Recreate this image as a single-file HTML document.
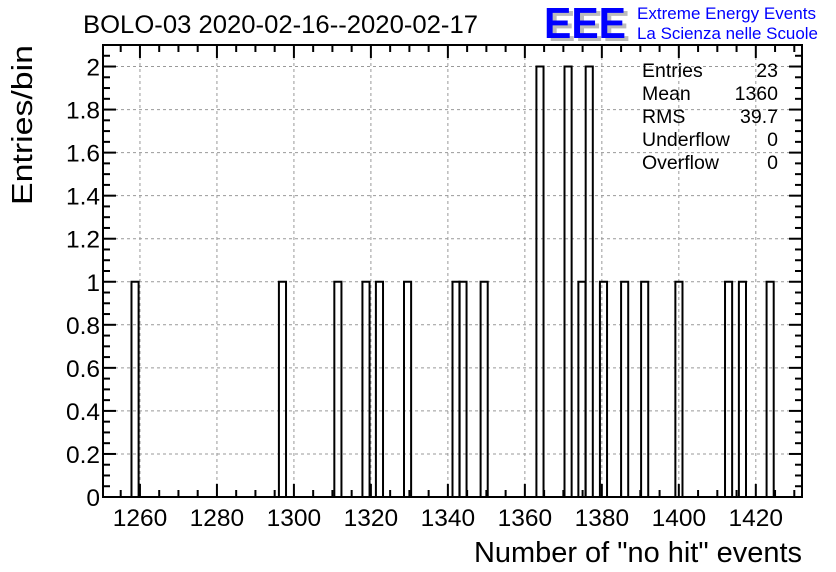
<!DOCTYPE html>
<html><head><meta charset="utf-8"><style>
body{margin:0;background:#fff;}
svg{display:block;font-family:"Liberation Sans",Arial,sans-serif;}
</style></head><body>
<svg id="chart" width="836" height="572" viewBox="0 0 836 572">
<rect width="836" height="572" fill="#fff"/>
<text x="83" y="33" font-size="25" fill="#000" textLength="395" lengthAdjust="spacingAndGlyphs">BOLO-03 2020-02-16--2020-02-17</text>
<g>
<text x="548" y="41" font-size="44" font-weight="bold" fill="#bbb" textLength="82" lengthAdjust="spacingAndGlyphs">EEE</text>
<text x="544" y="38" font-size="44" font-weight="bold" fill="#0000ff" textLength="82" lengthAdjust="spacingAndGlyphs">EEE</text>
<text x="637" y="19" font-size="17" fill="#0000ff" textLength="179" lengthAdjust="spacingAndGlyphs">Extreme Energy Events</text>
<text x="637" y="39" font-size="17" fill="#0000ff" textLength="181" lengthAdjust="spacingAndGlyphs">La Scienza nelle Scuole</text>
</g>
<g id="grid"></g>
<g id="hist"></g>
<g id="axes"></g>
<g font-size="19.5" fill="#000">
<text x="642" y="77">Entries</text><text x="778" y="77" text-anchor="end">23</text>
<text x="642" y="100">Mean</text><text x="778" y="100" text-anchor="end">1360</text>
<text x="642" y="123">RMS</text><text x="778" y="123" text-anchor="end">39.7</text>
<text x="642" y="146">Underflow</text><text x="778" y="146" text-anchor="end">0</text>
<text x="642" y="169">Overflow</text><text x="778" y="169" text-anchor="end">0</text>
</g>
<text transform="translate(32,45) rotate(-90)" text-anchor="end" font-size="29" textLength="160" lengthAdjust="spacingAndGlyphs">Entries/bin</text>
<text x="802" y="562" text-anchor="end" font-size="29" textLength="328" lengthAdjust="spacingAndGlyphs">Number of "no hit" events</text>
</svg>
<script>
const binStarts = [1257.8,1296.1,1310.5,1317.8,1321.3,1328.6,1341.2,1343.0,1348.5,1363.0,1370.3,1373.9,1375.8,1379.5,1385.0,1390.2,1399.1,1412.0,1415.6,1422.8];
const binCounts = [1,1,1,1,1,1,1,1,1,2,2,1,2,1,1,1,1,1,1,1];
const binWidth = 1.85;
const xTicks = [1260,1280,1300,1320,1340,1360,1380,1400,1420];
const yTicks = [0,0.2,0.4,0.6,0.8,1,1.2,1.4,1.6,1.8,2];
const yTickLabels = ["0","0.2","0.4","0.6","0.8","1","1.2","1.4","1.6","1.8","2"];

const L=103,R=802,T=45,B=497;
const xMin=1250.4,xMax=1432.0,yMax=2.1;
const sx=v=>L+(v-xMin)/(xMax-xMin)*(R-L);
const sy=v=>B-v/yMax*(B-T);
const NS="http://www.w3.org/2000/svg";
function mk(tag,attrs,parent){const e=document.createElementNS(NS,tag);for(const k in attrs)e.setAttribute(k,attrs[k]);parent.appendChild(e);return e;}
const grid=document.getElementById('grid'),hist=document.getElementById('hist'),axes=document.getElementById('axes');

xTicks.forEach(t=>{const l=mk('line',{x1:sx(t),x2:sx(t),y1:T,y2:B,stroke:'#999','stroke-dasharray':'3,3','stroke-width':1},grid);

});
yTicks.forEach(t=>{if(t===0)return;const l=mk('line',{x1:L,x2:R,y1:sy(t),y2:sy(t),stroke:'#999','stroke-dasharray':'3,3','stroke-width':1},grid);

});

binStarts.forEach((s,i)=>{const x0=sx(s),x1=sx(s+binWidth),y=sy(binCounts[i]);
const p=mk('path',{d:`M${x0},${B}V${y}H${x1}V${B}`,fill:'none',stroke:'#000','stroke-width':2},hist);

});
const base=mk('line',{x1:L,x2:R,y1:B,y2:B,stroke:'#000','stroke-width':2},hist);



const frame=mk('rect',{x:L,y:T,width:R-L,height:B-T,fill:'none',stroke:'#000','stroke-width':2},axes);


for(let v=1255;v<=1430;v+=5){const maj=(v%20===0);const len=maj?13:7;
mk('line',{x1:sx(v),x2:sx(v),y1:B,y2:B-len,stroke:'#000','stroke-width':2},axes);
mk('line',{x1:sx(v),x2:sx(v),y1:T,y2:T+len,stroke:'#000','stroke-width':2},axes);}
xTicks.forEach(t=>{const tx=mk('text',{x:sx(t),y:B+29,'text-anchor':'middle','font-size':24.5},axes);tx.textContent=t;

});
for(let k=0;k<=42;k++){const v=k*0.05;const maj=(k%4===0);const len=maj?13:7;
mk('line',{x1:L,x2:L+len,y1:sy(v),y2:sy(v),stroke:'#000','stroke-width':2},axes);
mk('line',{x1:R,x2:R-len,y1:sy(v),y2:sy(v),stroke:'#000','stroke-width':2},axes);}
yTicks.forEach((t,i)=>{const tx=mk('text',{x:L-3,y:sy(t)+9,'text-anchor':'end','font-size':24.5},axes);tx.textContent=yTickLabels[i];

});
</script>
</body></html>
